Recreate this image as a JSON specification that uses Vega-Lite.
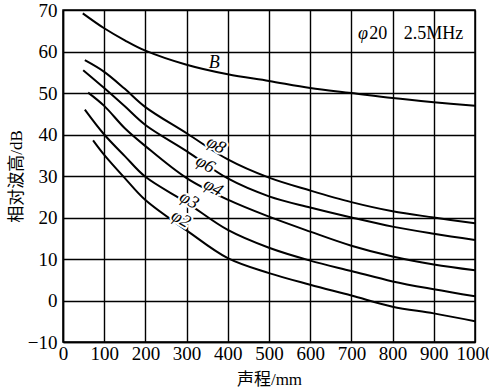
{
  "$schema": "https://vega.github.io/schema/vega-lite/v6.json",
  "width": 412,
  "height": 332,
  "autosize": {"type": "none"},
  "padding": {"left": 63, "top": 10, "right": 14, "bottom": 50},
  "background": "#ffffff",
  "config": {
    "view": {"stroke": "#000", "strokeWidth": 1.5},
    "axis": {
      "domainColor": "#000",
      "domainWidth": 1.5,
      "gridColor": "#000",
      "gridOpacity": 1,
      "gridWidth": 1.4,
      "tickSize": 0,
      "labelFont": "Liberation Serif",
      "labelFontSize": 19,
      "labelColor": "#000",
      "labelFlush": false,
      "labelOverlap": false,
      "titleFont": "'Liberation Serif', 'Noto Sans CJK SC'",
      "titleFontSize": 17,
      "titleFontWeight": "normal",
      "titleColor": "#000"
    }
  },
  "datasets": {
    "curves": [
      {"curve": "B", "x": 48, "y": 69.2}, {"curve": "B", "x": 100, "y": 65.6}, {"curve": "B", "x": 150, "y": 62.7}, {"curve": "B", "x": 200, "y": 60.2}, {"curve": "B", "x": 300, "y": 56.8}, {"curve": "B", "x": 400, "y": 54.5}, {"curve": "B", "x": 500, "y": 52.9}, {"curve": "B", "x": 600, "y": 51.2}, {"curve": "B", "x": 700, "y": 50.0}, {"curve": "B", "x": 800, "y": 48.8}, {"curve": "B", "x": 900, "y": 47.8}, {"curve": "B", "x": 1000, "y": 46.9},
      {"curve": "p8", "x": 53, "y": 57.9}, {"curve": "p8", "x": 100, "y": 55.1}, {"curve": "p8", "x": 150, "y": 51.0}, {"curve": "p8", "x": 200, "y": 46.6}, {"curve": "p8", "x": 300, "y": 40.3}, {"curve": "p8", "x": 400, "y": 34.0}, {"curve": "p8", "x": 500, "y": 29.6}, {"curve": "p8", "x": 600, "y": 26.5}, {"curve": "p8", "x": 700, "y": 23.7}, {"curve": "p8", "x": 800, "y": 21.5}, {"curve": "p8", "x": 900, "y": 20.0}, {"curve": "p8", "x": 1000, "y": 18.6},
      {"curve": "p6", "x": 49, "y": 55.5}, {"curve": "p6", "x": 100, "y": 51.2}, {"curve": "p6", "x": 150, "y": 46.8}, {"curve": "p6", "x": 200, "y": 42.3}, {"curve": "p6", "x": 300, "y": 36.0}, {"curve": "p6", "x": 400, "y": 29.4}, {"curve": "p6", "x": 500, "y": 25.1}, {"curve": "p6", "x": 600, "y": 22.4}, {"curve": "p6", "x": 700, "y": 20.0}, {"curve": "p6", "x": 800, "y": 17.8}, {"curve": "p6", "x": 900, "y": 16.1}, {"curve": "p6", "x": 1000, "y": 14.6},
      {"curve": "p4", "x": 61, "y": 50.1}, {"curve": "p4", "x": 100, "y": 46.9}, {"curve": "p4", "x": 150, "y": 41.5}, {"curve": "p4", "x": 200, "y": 37.2}, {"curve": "p4", "x": 300, "y": 29.5}, {"curve": "p4", "x": 400, "y": 24.3}, {"curve": "p4", "x": 500, "y": 20.2}, {"curve": "p4", "x": 600, "y": 16.6}, {"curve": "p4", "x": 700, "y": 13.2}, {"curve": "p4", "x": 800, "y": 10.6}, {"curve": "p4", "x": 900, "y": 8.7}, {"curve": "p4", "x": 1000, "y": 7.3},
      {"curve": "p3", "x": 53, "y": 46.0}, {"curve": "p3", "x": 100, "y": 40.0}, {"curve": "p3", "x": 150, "y": 34.8}, {"curve": "p3", "x": 200, "y": 29.8}, {"curve": "p3", "x": 300, "y": 23.6}, {"curve": "p3", "x": 400, "y": 17.0}, {"curve": "p3", "x": 500, "y": 12.7}, {"curve": "p3", "x": 600, "y": 9.6}, {"curve": "p3", "x": 700, "y": 7.1}, {"curve": "p3", "x": 800, "y": 4.6}, {"curve": "p3", "x": 900, "y": 2.7}, {"curve": "p3", "x": 1000, "y": 1.0},
      {"curve": "p2", "x": 73, "y": 38.6}, {"curve": "p2", "x": 100, "y": 35.1}, {"curve": "p2", "x": 150, "y": 29.5}, {"curve": "p2", "x": 200, "y": 24.2}, {"curve": "p2", "x": 300, "y": 16.9}, {"curve": "p2", "x": 400, "y": 10.2}, {"curve": "p2", "x": 500, "y": 6.6}, {"curve": "p2", "x": 600, "y": 3.8}, {"curve": "p2", "x": 700, "y": 1.2}, {"curve": "p2", "x": 800, "y": -1.5}, {"curve": "p2", "x": 900, "y": -3.1}, {"curve": "p2", "x": 1000, "y": -5.0}
    ],
    "phiLabels": [
      {"label": "φ8", "x": 371, "y": 37.4},
      {"label": "φ6", "x": 345, "y": 32.8},
      {"label": "φ4", "x": 364, "y": 27.2},
      {"label": "φ3", "x": 306, "y": 24.1},
      {"label": "φ2", "x": 286, "y": 19.6}
    ],
    "bLabel": [{"label": "B", "x": 367, "y": 57.2}],
    "phiSym": [{"label": "φ", "x": 728, "y": 64.3}],
    "legendText": [
      {"label": "20", "x": 765, "y": 64.3},
      {"label": "2.5MHz", "x": 899, "y": 64.3}
    ]
  },
  "encoding": {
    "x": {
      "field": "x", "type": "quantitative",
      "scale": {"domain": [0, 1000], "nice": false, "zero": false},
      "axis": {"values": [0, 100, 200, 300, 400, 500, 600, 700, 800, 900, 1000], "format": "d", "title": "声程/mm", "labelPadding": 2, "titlePadding": 8}
    },
    "y": {
      "field": "y", "type": "quantitative",
      "scale": {"domain": [-10, 70], "nice": false, "zero": false},
      "axis": {"values": [-10, 0, 10, 20, 30, 40, 50, 60, 70], "title": "相对波高/dB", "labelPadding": 6, "titlePadding": 2}
    }
  },
  "layer": [
    {
      "data": {"name": "curves"},
      "mark": {"type": "line", "color": "#000", "strokeWidth": 2, "interpolate": "catmull-rom"},
      "encoding": {"detail": {"field": "curve"}}
    },
    {
      "data": {"name": "phiLabels"},
      "mark": {"type": "text", "font": "Liberation Serif", "fontStyle": "italic", "fontSize": 18, "angle": 30, "color": "#fff", "stroke": "#fff", "strokeWidth": 4},
      "encoding": {"text": {"field": "label"}}
    },
    {
      "data": {"name": "phiLabels"},
      "mark": {"type": "text", "font": "Liberation Serif", "fontStyle": "italic", "fontSize": 18, "angle": 30, "color": "#000"},
      "encoding": {"text": {"field": "label"}}
    },
    {
      "data": {"name": "bLabel"},
      "mark": {"type": "text", "font": "Liberation Serif", "fontStyle": "italic", "fontSize": 18, "color": "#000"},
      "encoding": {"text": {"field": "label"}}
    },
    {
      "data": {"name": "phiSym"},
      "mark": {"type": "text", "font": "Liberation Serif", "fontStyle": "italic", "fontSize": 18, "color": "#000"},
      "encoding": {"text": {"field": "label"}}
    },
    {
      "data": {"name": "legendText"},
      "mark": {"type": "text", "font": "Liberation Serif", "fontSize": 18, "color": "#000"},
      "encoding": {"text": {"field": "label"}}
    }
  ]
}
